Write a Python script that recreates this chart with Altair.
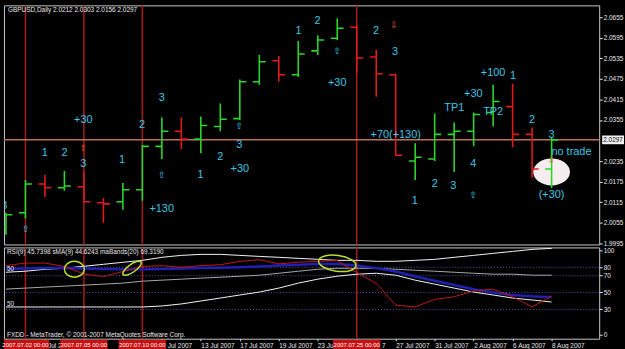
import json
import altair as alt
import pandas as pd

# ---------------- data ----------------
dates = ["29 Jun 2007", "2 Jul 2007", "3 Jul 2007", "4 Jul 2007", "5 Jul 2007", "6 Jul 2007",
         "9 Jul 2007", "10 Jul 2007", "11 Jul 2007", "12 Jul 2007", "13 Jul 2007",
         "16 Jul 2007", "17 Jul 2007", "18 Jul 2007", "19 Jul 2007", "20 Jul 2007",
         "23 Jul 2007", "24 Jul 2007", "25 Jul 2007", "26 Jul 2007", "27 Jul 2007",
         "30 Jul 2007", "31 Jul 2007", "1 Aug 2007", "2 Aug 2007", "3 Aug 2007",
         "6 Aug 2007", "7 Aug 2007", "8 Aug 2007"]
opens = [2.0043, 2.0084, 2.0168, 2.0157, 2.0160, 2.0113, 2.0116, 2.0151, 2.0278, 2.0322,
         2.0299, 2.0336, 2.0359, 2.0467, 2.0528, 2.0487, 2.0557, 2.0594, 2.0626, 2.0539,
         2.0487, 2.0235, 2.0241, 2.0313, 2.0322, 2.0377, 2.0394, 2.0313, 2.0212]
highs = [2.0084, 2.0180, 2.0194, 2.0206, 2.0203, 2.0127, 2.0171, 2.0281, 2.0362, 2.0362,
         2.0365, 2.0403, 2.0473, 2.0545, 2.0542, 2.0586, 2.0603, 2.0652, 2.0632, 2.0560,
         2.0490, 2.0287, 2.0374, 2.0348, 2.0377, 2.0458, 2.0461, 2.0333, 2.0303]
lows = [2.0020, 2.0067, 2.0130, 2.0148, 2.0113, 2.0055, 2.0093, 2.0119, 2.0241, 2.0270,
        2.0258, 2.0322, 2.0354, 2.0458, 2.0467, 2.0481, 2.0545, 2.0589, 2.0493, 2.0423,
        2.0249, 2.0180, 2.0235, 2.0203, 2.0278, 2.0336, 2.0275, 2.0186, 2.0156]
closes = [2.0078, 2.0168, 2.0157, 2.0162, 2.0116, 2.0110, 2.0151, 2.0278, 2.0322, 2.0299,
          2.0339, 2.0357, 2.0467, 2.0525, 2.0487, 2.0548, 2.0589, 2.0623, 2.0536, 2.0490,
          2.0252, 2.0246, 2.0313, 2.0322, 2.0371, 2.0409, 2.0313, 2.0212, 2.0297]

rsi = [82, 85, 85, 81, 72, 69, 75, 81, 82, 80, 82, 83, 87, 89, 84, 86, 87, 88, 74, 61,
       35, 33, 42, 45, 52, 54, 45, 33, 45.7]
rsi_ma = [78, 78.5, 79, 79, 78.5, 78, 77.5, 77.5, 78, 78.5, 79, 79.5, 80, 81, 82, 83, 84,
          84, 82, 79, 75, 69, 64, 59, 54, 50, 47, 45.5, 44.6]
band_up = [74.1, 75.3, 77.6, 78.8, 81.2, 83.5, 85.9, 88.2, 91.8, 94.1, 95.3, 95.3, 94.1,
           92.9, 91.8, 90.6, 89.4, 88.2, 88.2, 87.1, 87.1, 88.2, 89.4, 91.8, 94.1, 96.5,
           98.8, 101.2, 102.4]
band_mid = [54.1, 55.3, 56.5, 57.6, 58.8, 60.0, 61.2, 63.5, 64.7, 65.9, 67.1, 68.2, 69.4,
            70.6, 72.9, 75.3, 77.6, 78.8, 78.8, 78.8, 77.6, 76.5, 75.3, 74.1, 72.9, 71.8,
            71.8, 70.6, 70.6]
band_lo = [32.9, 32.9, 32.9, 32.9, 32.9, 32.9, 32.9, 32.9, 34.1, 36.5, 40.0, 43.5, 47.1,
           50.6, 55.3, 61.2, 65.9, 69.4, 71.8, 72.9, 70.6, 64.7, 60.0, 55.3, 50.6, 47.1,
           43.5, 41.2, 38.8]

# marked days (vertical lines + red time boxes)
mark_i = [1, 4, 7, 18]
mark_lab = ["2007.07.02 00:00", "2007.07.05 00:00", "2007.07.10 00:00", "2007.07.25 00:00"]

# time labels hidden (fully or partly) behind the red boxes, and their visible fragments
covered_i = [0, 2, 4, 6, 8, 16, 18]
frag_i = [2, 8, 16, 18]
frag_t = ["Jul 2", "Jul 2007", "23 Jul", "7"]
frag_dx = [3, 6, 0, 25.5]

last_price = 2.0297
title_txt = "GBPUSD,Daily  2.0212 2.0303 2.0156 2.0297"
rsi_txt = "RSI(9) 45.7398   sMA(9) 44.6243   maBands(20) 69.3190"
copy_txt = "FXDD - MetaTrader, \u00a9 2001-2007 MetaQuotes Software Corp."

ann_t = ["3", "+30", "1", "2", "3", "1", "2", "3", "+130", "1", "2", "3", "+30", "1", "2",
         "+30", "2", "3", "+70(+130)", "1", "2", "3", "4", "TP1", "+30", "+100", "1", "TP2",
         "2", "3", "no trade", "(+30)"]
ann_i = [-0.08, 3.97, 1.99, 3.0, 3.97, 5.96, 6.98, 7.99, 7.99, 9.98, 11.0, 11.97, 12.0,
         15.02, 15.99, 17.0, 18.99, 19.96, 20.0, 20.98, 22.0, 22.96, 23.98, 23.01, 23.98,
         25.0, 26.02, 25.0, 26.99, 28.0, 29.02, 28.0]
ann_p = [2.0104, 2.0354, 2.0258, 2.0258, 2.0226, 2.0238, 2.0339, 2.0420, 2.0096, 2.0194,
         2.0246, 2.0281, 2.0212, 2.0615, 2.0644, 2.0464, 2.0615, 2.0554, 2.0310, 2.0119,
         2.0168, 2.0162, 2.0226, 2.0391, 2.0432, 2.0493, 2.0484, 2.0377, 2.0354, 2.0310,
         2.0261, 2.0136]

up_arrow_i = [1.02, 7.99, 11.97, 17.0, 23.98]
up_arrow_p = [2.0035, 2.0194, 2.0336, 2.0557, 2.0136]
warn_sym = ["\u21e7", "\u21e9", "\u21e9"]
warn_i = [3.97, 19.91, 28.0]
warn_p = [2.0272, 2.0632, 2.0237]

price_ticks = [2.0655, 2.0595, 2.0535, 2.0475, 2.0415, 2.0355, 2.0235, 2.0175, 2.0115,
               2.0055, 1.9995]
rsi_ticks = [100, 80, 70, 50, 30, 0]
rsi_levels = [80, 70, 50, 30]

# ---------------- styling ----------------
W = 600
X_DOM = [-0.102, 30.443]
P_DOM = [1.99913, 2.0690]
R_DOM = [-4.71, 103.53]
GREEN = "#2bd62b"
RED = "#e01b1b"
CYAN = "#3fc6e4"
ORANGE = "#e0603a"
VRED = "#a81c1c"
TXT = "#e8e8e8"
FONT = "Liberation Sans"


def ell(r):
    return f"M -1 0 A 1 {r} 0 1 0 1 0 A 1 {r} 0 1 0 -1 0 Z"


BOX = "M -1 -0.4 L 1 -0.4 L 1 0.4 L -1 0.4 Z"

axis_labels = ["" if k in covered_i else d for k, d in enumerate(dates)]

xscale = alt.Scale(domain=X_DOM, nice=False, zero=False)
pscale = alt.Scale(domain=P_DOM, nice=False, zero=False)
rscale = alt.Scale(domain=R_DOM, nice=False, zero=False)

price_axis = alt.Axis(orient="right", values=price_ticks, format=".4f", labelColor=TXT,
                      labelFont=FONT, labelFontSize=6.5, tickSize=3, tickColor=TXT,
                      labelPadding=1, domain=False, grid=False, title=None,
                      labelOverlap=False, labelBaseline="middle")
rsi_axis = alt.Axis(orient="right", values=rsi_ticks, labelColor=TXT, labelFont=FONT,
                    labelFontSize=6.5, tickSize=3, tickColor=TXT, labelPadding=1,
                    domain=False, grid=False, title=None, labelOverlap=False)
time_axis = alt.Axis(orient="bottom", values=list(range(0, len(dates), 2)),
                     labelExpr=json.dumps(axis_labels) + "[datum.value]", labelAlign="left",
                     labelBaseline="top", labelPadding=2, tickSize=2, tickColor=TXT,
                     labelColor=TXT, labelFont=FONT, labelFontSize=6.5, domain=False,
                     grid=False, title=None, labelOverlap=False, labelFlush=False)


def xt(field):
    return alt.X(field, type="quantitative", scale=xscale, axis=None)


def xb(field):
    return alt.X(field, type="quantitative", scale=xscale, axis=time_axis)


def yp(field):
    return alt.Y(field, type="quantitative", scale=pscale, axis=price_axis)


def yr(field):
    return alt.Y(field, type="quantitative", scale=rscale, axis=rsi_axis)


bars = pd.DataFrame({"i": list(range(len(dates))), "date": dates, "open": opens,
                     "high": highs, "low": lows, "close": closes})
marks_df = pd.DataFrame({"i": mark_i, "lab": mark_lab})

# ---------------- main price panel ----------------
vlines = alt.Chart(marks_df).mark_rule(color=VRED, strokeWidth=1.5).encode(x=xt("i"))
hline = alt.Chart(pd.DataFrame({"p": [last_price]})).mark_rule(
    color="#b8735e", strokeWidth=1.5).encode(y=yp("p"))
white_ell = alt.Chart(pd.DataFrame({"i": [28.0], "p": [2.0203]})).mark_point(
    shape=ell(0.73), size=1369, filled=True, color="#f6edf0", opacity=1, strokeWidth=0
).encode(x=xt("i"), y=yp("p"))


def ohlc(cond, color):
    base = alt.Chart(bars).transform_filter(cond)
    hl = base.mark_rule(color=color, strokeWidth=1.6, clip=True).encode(
        x=xt("i"), y=yp("low"), y2="high")
    op = base.mark_rule(color=color, strokeWidth=1.6, xOffset=-6.5, x2Offset=0,
                        clip=True).encode(x=xt("i"), x2="i", y=yp("open"))
    cl = base.mark_rule(color=color, strokeWidth=1.6, xOffset=0, x2Offset=6.5,
                        clip=True).encode(x=xt("i"), x2="i", y=yp("close"))
    return [hl, op, cl]


ann = alt.Chart(pd.DataFrame({"i": ann_i, "p": ann_p, "t": ann_t})).mark_text(
    font=FONT, fontSize=11, color=CYAN, align="center", baseline="middle", clip=True
).encode(x=xt("i"), y=yp("p"), text="t:N")
arrows = alt.Chart(pd.DataFrame({"i": up_arrow_i, "p": up_arrow_p})).mark_text(
    font="DejaVu Sans", fontSize=9, color=CYAN, align="center", baseline="middle",
    text="\u21e7").encode(x=xt("i"), y=yp("p"))
warns = alt.Chart(pd.DataFrame({"i": warn_i, "p": warn_p, "s": warn_sym})).mark_text(
    font="DejaVu Sans", fontSize=9, color=ORANGE, align="center", baseline="middle"
).encode(x=xt("i"), y=yp("p"), text="s:N")
title = alt.Chart(pd.DataFrame({"t": [title_txt]})).mark_text(
    font=FONT, fontSize=6.5, color=TXT, align="left", baseline="middle"
).encode(x=alt.value(4), y=alt.value(5), text="t:N")
pbox = alt.Chart(pd.DataFrame({"p": [last_price]})).mark_point(
    shape=BOX, size=484, filled=True, color="#f2f2f2", opacity=1
).encode(x=alt.value(W + 14), y=yp("p"))
ptxt = alt.Chart(pd.DataFrame({"p": [last_price]})).mark_text(
    font=FONT, fontSize=6.5, color="black", align="center", baseline="middle"
).encode(x=alt.value(W + 14), y=yp("p"), text=alt.Text("p:Q", format=".4f"))

top = alt.layer(vlines, hline, white_ell, *ohlc("datum.close >= datum.open", GREEN),
                *ohlc("datum.close < datum.open", RED), ann, arrows, warns, title,
                pbox, ptxt).properties(width=W, height=241)

# ---------------- RSI panel ----------------
ind = pd.DataFrame({"i": list(range(len(dates))), "rsi": rsi, "ma": rsi_ma,
                    "up": band_up, "mid": band_mid, "lo": band_lo})
lv = alt.Chart(pd.DataFrame({"v": rsi_levels})).mark_rule(
    color="#5a5ab4", strokeDash=[1, 2], strokeWidth=1).encode(y=yr("v"))
vlines2 = alt.Chart(marks_df).mark_rule(color=VRED, strokeWidth=1.5).encode(x=xb("i"))
b_up = alt.Chart(ind).mark_line(color="#f4f4f4", strokeWidth=1).encode(x=xb("i"), y=yr("up"))
b_mid = alt.Chart(ind).mark_line(color="#a8a8a8", strokeWidth=1).encode(x=xb("i"), y=yr("mid"))
b_lo = alt.Chart(ind).mark_line(color="#f4f4f4", strokeWidth=1).encode(x=xb("i"), y=yr("lo"))
ma_line = alt.Chart(ind).mark_line(color="#2020b0", strokeWidth=2.5).encode(x=xb("i"), y=yr("ma"))
rsi_line = alt.Chart(ind).mark_line(color="#c01818", strokeWidth=1).encode(x=xb("i"), y=yr("rsi"))

e1 = alt.Chart(pd.DataFrame({"i": [3.51], "v": [77.6]})).mark_point(
    shape=ell(0.8), size=400, filled=False, color="#b8e030", strokeWidth=1.5, opacity=1
).encode(x=xb("i"), y=yr("v"))
e2 = alt.Chart(pd.DataFrame({"i": [6.47], "v": [78.8]})).mark_point(
    shape=ell(0.36), size=484, filled=False, color="#b8e030", strokeWidth=1.5, opacity=1,
    angle=325).encode(x=xb("i"), y=yr("v"))
e3 = alt.Chart(pd.DataFrame({"i": [17.0], "v": [84.7]})).mark_point(
    shape=ell(0.42), size=1444, filled=False, color="#b8e030", strokeWidth=1.5, opacity=1,
    angle=8).encode(x=xb("i"), y=yr("v"))

rsi_head = alt.Chart(pd.DataFrame({"t": [rsi_txt]})).mark_text(
    font=FONT, fontSize=6.5, color=TXT, align="left", baseline="middle"
).encode(x=alt.value(3), y=alt.value(5), text="t:N")
copy_t = alt.Chart(pd.DataFrame({"t": [copy_txt]})).mark_text(
    font=FONT, fontSize=6.5, color=TXT, align="left", baseline="middle"
).encode(x=alt.value(3), y=alt.value(88), text="t:N")
fifty = alt.Chart(pd.DataFrame({"v": [74.1, 32.9], "t": ["50", "50"]})).mark_text(
    font=FONT, fontSize=6.5, color=TXT, align="left", baseline="bottom"
).encode(x=alt.value(3), y=yr("v"), text="t:N")

frag_layers = []
for fi, ft, fdx in zip(frag_i, frag_t, frag_dx):
    frag_layers.append(
        alt.Chart(pd.DataFrame({"i": [fi], "t": [ft]})).mark_text(
            font=FONT, fontSize=6.5, color=TXT, align="left", baseline="top", dx=fdx
        ).encode(x=xb("i"), y=alt.value(96), text="t:N"))

boxes = alt.Chart(marks_df).transform_calculate(
    x1="max(datum.i - 1.22, -0.1)", x2="datum.i + 1.22"
).mark_rect(color="#c41212").encode(x=xb("x1:Q"), x2="x2:Q", y=alt.value(93), y2=alt.value(103))
box_t = alt.Chart(marks_df).mark_text(
    font=FONT, fontSize=6, color="white", align="center", baseline="middle"
).encode(x=xb("i"), y=alt.value(98), text="lab:N")

bottom = alt.layer(lv, vlines2, b_up, b_mid, b_lo, ma_line, rsi_line, e1, e2, e3,
                   rsi_head, copy_t, fifty, *frag_layers, boxes, box_t
                   ).properties(width=W, height=92)

chart = alt.vconcat(top, bottom, spacing=3, bounds="flush").properties(
    padding={"left": 0, "top": 2, "right": 0, "bottom": 0}, background="black"
).configure_view(stroke="#c8c8c8", strokeWidth=1)

chart.save("out.html", embed_options={"renderer": "svg", "actions": False})
